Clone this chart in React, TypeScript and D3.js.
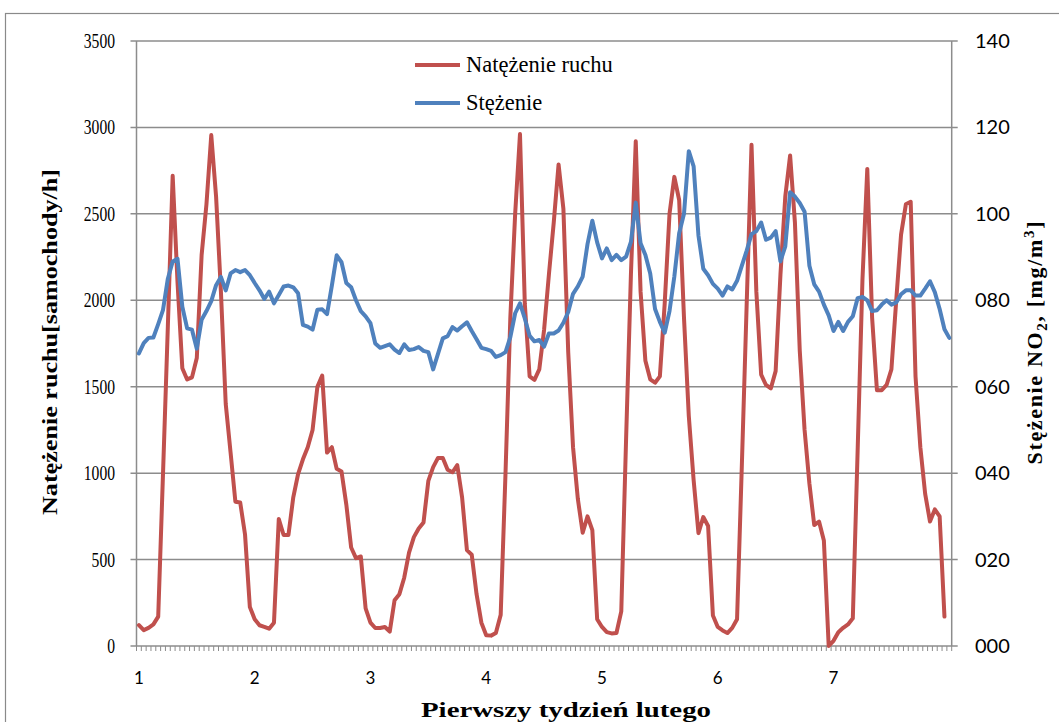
import React from 'react';
import * as d3 from 'd3';

const dayLabels = ['1', '2', '3', '4', '5', '6', '7'];

// Natężenie ruchu [samochody/h] (hourly, left axis)
const traffic = [
  121, 92, 105, 125, 170, 1000, 1850, 2720, 2107, 1607,
  1542, 1554, 1666, 2262, 2555, 2956, 2600, 2050, 1400, 1120,
  835, 830, 645, 225, 155, 120, 111, 100, 135, 735,
  642, 642, 860, 995, 1080, 1150, 1250, 1499, 1564, 1119,
  1150, 1025, 1010, 818, 570, 508, 518, 218, 135, 104,
  104, 110, 83, 265, 300, 395, 540, 630, 680, 715,
  955, 1035, 1088, 1088, 1020, 1005, 1046, 860, 555, 528,
  300, 135, 62, 60, 75, 180, 1000, 1900, 2500, 2962,
  1980, 1560, 1540, 1600, 1830, 2150, 2450, 2786, 2530, 1700,
  1150, 850, 655, 750, 670, 155, 110, 80, 73, 75,
  200, 1200, 2150, 2920, 2050, 1650, 1543, 1523, 1560, 1980,
  2500, 2714, 2580, 1900, 1330, 960, 653, 746, 694, 176,
  110, 90, 75, 105, 155, 1050, 1980, 2900, 2050, 1570,
  1510, 1490, 1590, 2150, 2600, 2838, 2450, 1709, 1250, 940,
  700, 720, 611, 0, 30, 80, 105, 125, 160, 1130,
  2120, 2760, 1900, 1480, 1480, 1510, 1600, 2000, 2380, 2555,
  2570, 1560, 1150, 880, 720, 790, 750, 170,
];

// Stężenie NO2 [mg/m3] (hourly, right axis)
const no2 = [
  67.7, 70.1, 71.3, 71.4, 74.5, 77.8, 85, 89, 89.6, 78.5,
  73.5, 73.2, 68.8, 75.5, 77.5, 79.8, 83.5, 85.4, 82.3, 86.2,
  87.0, 86.5, 87.0, 85.8, 84.0, 82.3, 80.3, 82.0, 79.3, 81.2,
  83.2, 83.4, 83.0, 81.6, 74.3, 73.9, 73.2, 77.8, 77.9, 76.8,
  83.4, 90.4, 88.8, 84.0, 83.0, 80.0, 77.5, 76.3, 74.7, 70.0,
  69.0, 69.4, 69.8, 68.6, 67.8, 69.8, 68.5, 68.7, 69.2, 68.3,
  68.0, 64.0, 67.6, 71.2, 71.7, 73.8, 73.0, 74.0, 74.9, 72.9,
  71.0, 69.0, 68.7, 68.3, 66.9, 67.3, 68.0, 71.5, 77.0, 79.3,
  75.8, 71.8, 70.5, 70.8, 69.3, 72.3, 72.3, 73.0, 74.8, 77.3,
  81.5, 83.2, 85.5, 93.0, 98.4, 93.4, 89.7, 92.0, 89.3, 90.5,
  89.3, 90.1, 93.5, 102.6, 93.2, 90.5, 86.2, 78.0, 75.0, 72.5,
  77.5, 85.5, 95.5, 100.0, 114.5, 111.0, 95.0, 87.3, 85.8, 83.8,
  82.7, 81.1, 83.2, 82.5, 84.5, 88.0, 91.5, 95.3, 96.0, 98.0,
  94.0, 94.5, 96.0, 89.0, 92.5, 105.0, 104.0, 102.5, 100.5, 88.0,
  83.7, 82.0, 79.0, 76.5, 72.9, 75.0, 72.9, 75.0, 76.3, 80.5,
  80.8, 80.0, 77.5, 77.7, 79.0, 80.0, 79.0, 79.5, 81.4, 82.3,
  82.3, 81.1, 81.1, 82.7, 84.4, 81.9, 78.0, 73.3, 71.3,
];

const leftTicks = [0, 500, 1000, 1500, 2000, 2500, 3000, 3500];
const rightTicks = [0, 20, 40, 60, 80, 100, 120, 140];

const seriesNames = ['Natężenie ruchu', 'Stężenie'];
const RED = '#C0504D';
const BLUE = '#4F81BD';
const GRID = '#8C8C8C';

export default function App() {
  const W = 1059;
  const H = 722;
  const plot = { left: 136.5, right: 951.7, top: 41, bottom: 646 };
  const n = no2.length;

  const x = d3
    .scaleBand<number>()
    .domain(d3.range(n))
    .range([plot.left, plot.right])
    .padding(0);
  const cx = (i: number) => (x(i) as number) + x.bandwidth() / 2;
  const yL = d3.scaleLinear().domain([0, 3500]).range([plot.bottom, plot.top]);
  const yR = d3.scaleLinear().domain([0, 140]).range([plot.bottom, plot.top]);

  const redLine = d3
    .line<number>()
    .x((_, i) => cx(i))
    .y((d) => yL(d));
  const blueLine = d3
    .line<number>()
    .x((_, i) => cx(i))
    .y((d) => yR(d));

  const fmtR = d3.format('03d');
  const minorTicks = d3.range(n + 1).map((i) => plot.left + i * x.bandwidth());

  const serif = '"Liberation Serif", "Times New Roman", serif';
  const sans = 'Lato, "Liberation Sans", sans-serif';

  return (
    <svg
      width={W}
      height={H}
      style={{ position: 'absolute', left: 0, top: 0, background: '#fff' }}
    >
      <rect x={0} y={0} width={W} height={H} fill="#fff" />
      <rect x={5.5} y={13.5} width={1120} height={800} fill="none" stroke="#8a8a8a" strokeWidth={1.2} />

      {/* horizontal gridlines with outer ticks */}
      {leftTicks.map((t) => (
        <line
          key={'g' + t}
          x1={plot.left - 6}
          x2={plot.right + 6}
          y1={yL(t)}
          y2={yL(t)}
          stroke={GRID}
          strokeWidth={1.5}
        />
      ))}
      {/* axes */}
      <line x1={plot.left} x2={plot.left} y1={plot.top} y2={plot.bottom} stroke={GRID} strokeWidth={1.5} />
      <line x1={plot.right} x2={plot.right} y1={plot.top} y2={plot.bottom} stroke={GRID} strokeWidth={1.5} />
      {minorTicks.map((mx, i) => (
        <line key={'m' + i} x1={mx} x2={mx} y1={plot.bottom} y2={plot.bottom + 5} stroke={GRID} strokeWidth={1} />
      ))}

      {/* left tick labels */}
      {leftTicks.map((t) => {
        const s = String(t);
        return (
          <text
            key={'l' + t}
            x={115}
            y={yL(t) + 7}
            textAnchor="end"
            fontFamily={serif}
            fontSize={21}
            textLength={s.length * 7.8}
            lengthAdjust="spacingAndGlyphs"
            fill="#000"
          >
            {s}
          </text>
        );
      })}
      {/* right tick labels */}
      {rightTicks.map((t) => (
        <text
          key={'r' + t}
          x={975}
          y={yR(t) + 7}
          textAnchor="start"
          fontFamily={sans}
          fontSize={20}
          fill="#000"
        >
          {fmtR(t)}
        </text>
      ))}
      {/* x labels */}
      {dayLabels.map((d, k) => (
        <text
          key={'x' + d}
          x={cx(k * 24)}
          y={684}
          textAnchor="middle"
          fontFamily={sans}
          fontSize={17}
          fill="#000"
        >
          {d}
        </text>
      ))}

      {/* series */}
      <path d={redLine(traffic) as string} fill="none" stroke={RED} strokeWidth={4} strokeLinejoin="round" strokeLinecap="round" />
      <path d={blueLine(no2) as string} fill="none" stroke={BLUE} strokeWidth={4} strokeLinejoin="round" strokeLinecap="round" />

      {/* legend */}
      <line x1={415} x2={460} y1={65} y2={65} stroke={RED} strokeWidth={4} />
      <text x={466} y={72} fontFamily={serif} fontSize={22.5} fill="#000">
        {seriesNames[0]}
      </text>
      <line x1={415} x2={460} y1={103} y2={103} stroke={BLUE} strokeWidth={4} />
      <text x={466} y={110} fontFamily={serif} fontSize={22.5} fill="#000">
        {seriesNames[1]}
      </text>

      {/* axis titles */}
      <text
        x={566}
        y={717}
        textAnchor="middle"
        fontFamily={serif}
        fontSize={22}
        fontWeight="bold"
        textLength={290}
        lengthAdjust="spacingAndGlyphs"
        fill="#000"
      >
        Pierwszy tydzień lutego
      </text>
      <text
        transform="translate(57,342) rotate(-90)"
        textAnchor="middle"
        fontFamily={serif}
        fontSize={21}
        fontWeight="bold"
        textLength={346}
        lengthAdjust="spacingAndGlyphs"
        fill="#000"
      >
        Natężenie ruchu[samochody/h]
      </text>
      <text
        transform="translate(1042,343) rotate(-90)"
        textAnchor="middle"
        fontFamily={serif}
        fontSize={22}
        fontWeight="bold"
        textLength={243}
        lengthAdjust="spacing"
        fill="#000"
      >
        Stężenie NO
        <tspan fontSize={15} dy={5}>2</tspan>
        <tspan dy={-5}>, [mg/m</tspan>
        <tspan fontSize={15} dy={-8}>3</tspan>
        <tspan dy={8}>]</tspan>
      </text>
    </svg>
  );
}
